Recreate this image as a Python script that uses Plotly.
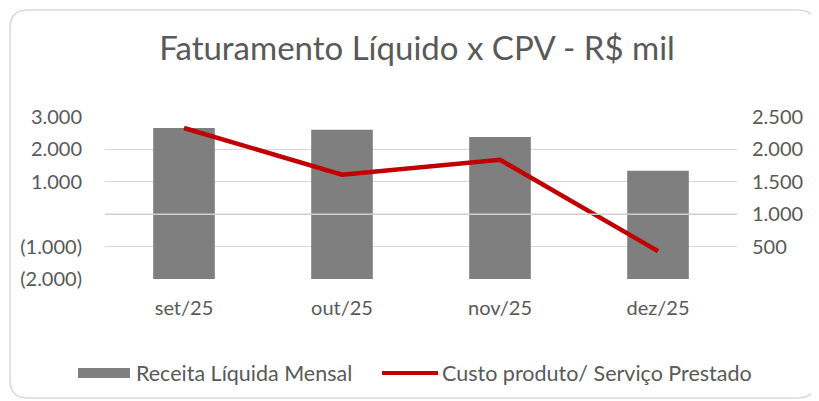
import plotly.graph_objects as go

categories = ["set/25", "out/25", "nov/25", "dez/25"]
receita = [2660, 2610, 2380, 1340]
custo = [2330, 1610, 1840, 430]
left_tickvals = [3000, 2000, 1000, 0, -1000, -2000]
left_ticktext = ["3.000", "2.000", "1.000", "", "(1.000)", "(2.000)"]
right_tickvals = [2500, 2000, 1500, 1000, 500, 0]
right_ticktext = ["2.500", "2.000", "1.500", "1.000", "500", ""]
bar_name = "Receita Líquida Mensal"
line_name = "Custo produto/ Serviço Prestado"

FONT = "Lato"
GREY = "#595959"
BAR_C = "#7F7F7F"
LINE_C = "#C00000"
OFF = 8  # page body margin
W, H = 819 - OFF, 401 - OFF
ML, MR, MT, MB = 105 - OFF, 82, 117 - OFF, 122
pw, ph = W - ML - MR, H - MT - MB

def px(x):  # page x -> paper
    return (x - OFF - ML) / pw

def py(y):  # page y -> paper
    return (H - MB - (y - OFF)) / ph

fig = go.Figure()
fig.add_trace(go.Bar(
    x=categories, y=[v + 2000 for v in receita], base=[-2000] * len(receita),
    name=bar_name, marker=dict(color=BAR_C, line=dict(width=0)), yaxis="y",
    showlegend=False,
))
fig.add_trace(go.Scatter(
    x=categories, y=custo, name=line_name, mode="lines",
    line=dict(color=LINE_C, width=4.5), yaxis="y2", showlegend=False,
))

# rounded chart border
x0, x1, y0, y1, r = px(10), px(816), py(398), py(10), 18
rx, ry = r / pw, r / ph
path = (f"M {x0+rx},{y1} L {x1-rx},{y1} Q {x1},{y1} {x1},{y1-ry} "
        f"L {x1},{y0+ry} Q {x1},{y0} {x1-rx},{y0} L {x0+rx},{y0} "
        f"Q {x0},{y0} {x0},{y0+ry} L {x0},{y1-ry} Q {x0},{y1} {x0+rx},{y1} Z")

shapes = [
    dict(type="line", xref="paper", yref="y", x0=0, x1=1, y0=0, y1=0,
         line=dict(color="#D0D0D0", width=1.5), layer="above"),
    dict(type="path", xref="paper", yref="paper", path=path,
         fillcolor="rgba(0,0,0,0)", line=dict(color="#D9D9D9", width=1.5), layer="above"),
    # legend symbols
    dict(type="rect", xref="paper", yref="paper", x0=px(78), x1=px(130),
         y0=py(378), y1=py(368), fillcolor=BAR_C, line=dict(width=0), layer="above"),
    dict(type="line", xref="paper", yref="paper", x0=px(382), x1=px(438),
         y0=py(373), y1=py(373), line=dict(color=LINE_C, width=4), layer="above"),
]
annotations = [
    dict(text=bar_name, xref="paper", yref="paper", x=px(134), y=py(373),
         xanchor="left", yanchor="middle", showarrow=False,
         font=dict(size=21.5, color=GREY, family=FONT)),
    dict(text=line_name, xref="paper", yref="paper", x=px(440), y=py(373),
         xanchor="left", yanchor="middle", showarrow=False,
         font=dict(size=21.5, color=GREY, family=FONT)),
]

fig.update_layout(
    width=W, height=H,
    margin=dict(l=ML, r=MR, t=MT, b=MB),
    paper_bgcolor="white", plot_bgcolor="white",
    font=dict(family=FONT, color=GREY, size=20),
    title=dict(text="Faturamento Líquido x CPV - R$ mil", x=(417 - OFF) / W, xref="container",
               xanchor="center", y=1 - (48 - OFF) / H, yanchor="middle",
               font=dict(size=33, color=GREY, family=FONT)),
    bargap=0.61,
    showlegend=False,
    xaxis=dict(showgrid=False, showline=False, ticks="", tickfont=dict(size=20),
               ticklabelstandoff=15),
    yaxis=dict(range=[-2000, 3000], tickvals=left_tickvals, ticktext=left_ticktext,
               showgrid=True, gridcolor="#D9D9D9", gridwidth=1.2, zeroline=False,
               showline=False, ticks="", tickfont=dict(size=20), ticklabelstandoff=22),
    yaxis2=dict(range=[0, 2500], tickvals=right_tickvals, ticktext=right_ticktext,
                overlaying="y", side="right", showgrid=False, zeroline=False,
                showline=False, ticks="", tickfont=dict(size=20), ticklabelstandoff=14),
    shapes=shapes,
    annotations=annotations,
)

fig.write_html("out.html")
